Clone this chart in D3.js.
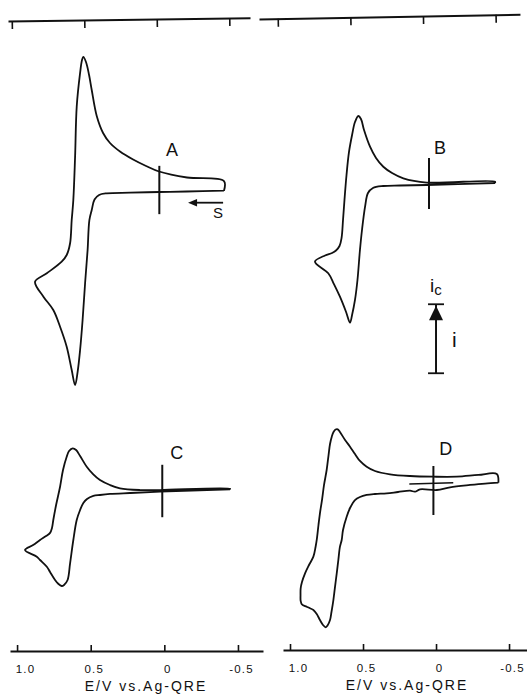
<!DOCTYPE html>
<html lang="en">
<head>
<meta charset="utf-8">
<title>CV A-D</title>
<script src="https://cdn.jsdelivr.net/npm/d3@7"></script>
<style>
body { margin: 0; background: #fff; }
text { font-family: "Liberation Sans", Arial, sans-serif; fill: #111; }
</style>
</head>
<body>
<script>
var w = 527;
var h = 694;

// potential axis ticks (V vs. Ag-QRE)
var eTicks = [1.0, 0.5, 0, -0.5];
var eTickLabels = ["1.0", "0.5", "0", "-0.5"];

// traced voltammograms: [E (V), i (arb. units, cathodic up)], one closed loop each
var cvA = [[-0.405,-0.10],[-0.152,-0.22],[0.034,-0.29],[0.233,-0.39],[0.391,-0.48],[0.443,-0.72],[0.474,-1.38],
  [0.493,-2.90],[0.509,-4.35],[0.521,-8.70],[0.538,-13.48],[0.555,-18.84],[0.572,-23.19],[0.589,-26.38],
  [0.606,-28.26],[0.629,-26.09],[0.663,-22.71],[0.708,-19.81],[0.754,-17.39],[0.821,-15.46],[0.878,-13.29],
  [0.798,-12.07],[0.697,-10.39],[0.663,-9.42],[0.640,-7.72],[0.629,-4.35],[0.618,-1.45],[0.606,4.83],
  [0.595,12.07],[0.572,16.96],[0.559,18.84],[0.550,19.28],[0.532,18.55],[0.511,16.67],[0.493,14.49],
  [0.459,10.72],[0.416,8.26],[0.369,6.81],[0.301,5.58],[0.212,4.42],[0.124,3.48],[0.036,2.68],
  [-0.154,1.81],[-0.405,1.30]];

var cvB = [[-0.404,0.07],[0.064,-0.22],[0.247,-0.29],[0.361,-0.36],[0.432,-0.65],[0.466,-1.38],[0.486,-3.36],
  [0.507,-6.74],[0.521,-9.64],[0.538,-13.99],[0.555,-16.88],[0.575,-19.06],[0.589,-20.17],[0.616,-18.62],
  [0.658,-16.41],[0.699,-14.57],[0.738,-13.01],[0.829,-11.33],[0.760,-10.43],[0.712,-10.07],[0.685,-9.71],
  [0.661,-9.06],[0.647,-7.90],[0.637,-5.29],[0.627,-2.39],[0.613,1.23],[0.596,4.57],[0.575,7.03],
  [0.555,8.91],[0.532,9.78],[0.514,9.35],[0.493,7.75],[0.452,5.33],[0.411,3.70],[0.361,2.43],
  [0.301,1.52],[0.224,0.75],[0.064,0.14],[-0.404,0.26]];

var cvC = [[-0.446,0.25],[0.029,-0.10],[0.233,-0.29],[0.369,-0.43],[0.437,-0.58],[0.482,-0.72],[0.525,-1.16],
  [0.550,-1.74],[0.572,-2.75],[0.595,-4.20],[0.618,-7.10],[0.640,-10.48],[0.657,-12.90],[0.681,-13.62],
  [0.697,-13.77],[0.722,-13.41],[0.742,-12.90],[0.776,-11.74],[0.798,-10.97],[0.844,-10.00],[0.866,-9.52],
  [0.946,-8.55],[0.891,-7.83],[0.844,-7.10],[0.803,-6.52],[0.776,-6.07],[0.763,-5.36],[0.754,-4.20],
  [0.735,-2.03],[0.708,0.62],[0.688,3.04],[0.663,4.97],[0.647,5.80],[0.622,6.19],[0.599,5.94],
  [0.572,5.07],[0.527,3.52],[0.484,2.46],[0.437,1.59],[0.369,0.87],[0.301,0.39],[0.165,0.14],
  [0.029,0.14],[-0.446,0.33]];

var cvD = [[-0.427,1.13],[-0.336,1.01],[-0.233,0.80],[-0.096,0.46],[-0.005,0.07],[0.110,0.17],[0.144,-0.17],
  [0.178,-0.03],[0.260,-0.22],[0.338,-0.41],[0.418,-0.51],[0.475,-0.65],[0.521,-0.94],[0.555,-1.38],
  [0.589,-2.54],[0.612,-3.80],[0.637,-5.72],[0.646,-7.17],[0.658,-8.14],[0.669,-10.07],[0.680,-12.00],
  [0.692,-13.99],[0.703,-15.87],[0.716,-17.61],[0.726,-18.77],[0.743,-19.57],[0.755,-19.83],[0.774,-19.49],
  [0.795,-18.77],[0.817,-17.90],[0.840,-17.32],[0.863,-17.07],[0.886,-16.84],[0.918,-16.52],[0.927,-16.01],
  [0.928,-15.14],[0.927,-14.17],[0.918,-13.26],[0.897,-12.00],[0.870,-10.80],[0.840,-9.59],[0.825,-8.19],
  [0.817,-7.17],[0.805,-5.00],[0.795,-3.30],[0.781,-1.38],[0.767,0.80],[0.749,2.97],[0.736,5.14],
  [0.726,6.74],[0.714,7.80],[0.702,8.48],[0.688,8.84],[0.673,8.87],[0.658,8.48],[0.623,7.32],
  [0.589,6.35],[0.555,5.29],[0.521,4.28],[0.475,3.45],[0.418,2.83],[0.315,2.35],[0.178,2.10],
  [0.018,2.00],[-0.142,2.00],[-0.290,2.25],[-0.416,2.39]];

// short extra trace near the zero marker in D
var cvDExtra = [[0.183,0.94],[-0.118,1.13]];

// zero markers (E position, half height in current units)
var markerE = [0.034, 0.048, 0.014, 0.018];
var markerHalf = [3.5, 3.7, 3.8, 3.55];

// current scale bar (i units)
var scaleBarI = [-27.5, -17.5];

var svg = d3.select("body").append("svg")
  .attr("width", w)
  .attr("height", h);

// x scales for the two columns
var xLeft = d3.scaleLinear().domain([1.048, -0.670]).range([10, 263]);
var xRight = d3.scaleLinear().domain([1.048, -0.623]).range([283, 527]);
var xTopLeft = d3.scaleLinear().domain([1.026, -0.643]).range([8, 250]);
var xTopRight = d3.scaleLinear().domain([1.129, -0.668]).range([259, 520]);

var panels = [
  {name: "A", data: cvA, x: xLeft, y0: 190, lab: [-0.052, 4.93]},
  {name: "B", data: cvB, x: xRight, y0: 183.5, lab: [-0.027, 4.28]},
  {name: "C", data: cvC, x: xLeft, y0: 491, lab: [-0.084, 4.64]},
  {name: "D", data: cvD, x: xRight, y0: 490.5, lab: [-0.066, 5.14]}
];

panels.forEach(function (p, k) {
  var x = p.x;
  var y = d3.scaleLinear().domain([0, 10]).range([p.y0, p.y0 - 69]);
  p.y = y;
  var line = d3.line()
    .x(function (d) { return x(d[0]); })
    .y(function (d) { return y(d[1]); })
    .curve(d3.curveCatmullRom.alpha(0.5));

  svg.append("path")
     .datum(p.data.concat([p.data[0]]))
     .attr("d", line)
     .attr("fill", "none")
     .attr("stroke", "#111")
     .attr("stroke-width", 1.8)
     .attr("stroke-linejoin", "round");

  svg.append("line")
     .attr("x1", x(markerE[k])).attr("x2", x(markerE[k]))
     .attr("y1", y(markerHalf[k])).attr("y2", y(-markerHalf[k]))
     .attr("stroke", "#111")
     .attr("stroke-width", 2);

  svg.append("text")
     .attr("x", x(p.lab[0]))
     .attr("y", y(p.lab[1]))
     .attr("text-anchor", "middle")
     .attr("font-size", "18px")
     .text(p.name);

  if (p.name === "D") {
    svg.append("path")
       .datum(cvDExtra)
       .attr("d", line.curve(d3.curveLinear))
       .attr("fill", "none")
       .attr("stroke", "#111")
       .attr("stroke-width", 1.5);
  }
});

// scan direction arrow in A
var pA = panels[0];
var ay = pA.y(-1.84);
svg.append("line")
   .attr("x1", xLeft(-0.399)).attr("x2", xLeft(-0.20))
   .attr("y1", ay).attr("y2", ay)
   .attr("stroke", "#111").attr("stroke-width", 1.8);
svg.append("path")
   .attr("d", "M" + xLeft(-0.161) + "," + ay + "l9,-3.8l0,7.6z")
   .attr("fill", "#111");
svg.append("text")
   .attr("x", xLeft(-0.365)).attr("y", pA.y(-4.06))
   .attr("text-anchor", "middle")
   .attr("font-size", "15px")
   .text("S");

// current scale bar next to B
var pB = panels[1];
var bx = xRight(0);
var yb0 = pB.y(scaleBarI[0]), yb1 = pB.y(scaleBarI[1]);
svg.append("line").attr("x1", bx).attr("x2", bx).attr("y1", yb0).attr("y2", yb1)
   .attr("stroke", "#111").attr("stroke-width", 2);
[yb0, yb1].forEach(function (yy) {
  svg.append("line").attr("x1", bx - 8).attr("x2", bx + 8).attr("y1", yy).attr("y2", yy)
     .attr("stroke", "#111").attr("stroke-width", 1.8);
});
svg.append("path")
   .attr("d", "M" + bx + "," + (yb1 + 1.5) + "l7,14.5l-14,0z")
   .attr("fill", "#111");
var ic = svg.append("text").attr("x", bx - 6).attr("y", yb1 - 12).attr("font-size", "19px").text("i");
ic.append("tspan").attr("dy", 3).attr("font-size", "15px").text("c");
svg.append("text").attr("x", bx + 16).attr("y", (yb0 + yb1) / 2 + 8).attr("font-size", "21px").text("i");

// bottom axes
var labelShift = [8, 3, 3, 3];
function bottomAxis(x, yPos, titleX) {
  var g = svg.append("g")
     .attr("transform", "translate(0," + yPos + ")")
     .call(d3.axisBottom(x)
        .tickValues(eTicks)
        .tickFormat(function (d, i) { return eTickLabels[i]; })
        .tickSizeInner(-6)
        .tickSizeOuter(0)
        .tickPadding(14));
  g.select(".domain").attr("stroke", "#111").attr("stroke-width", 2);
  g.selectAll(".tick line").attr("stroke", "#111").attr("stroke-width", 1.6);
  g.selectAll(".tick text")
   .attr("font-size", "11.5px")
   .attr("letter-spacing", "1.2px")
   .attr("dx", function (d, i) { return labelShift[i]; })
   .attr("fill", "#111")
   .style("font-family", "\"Liberation Sans\", Arial, sans-serif");
  svg.append("text")
     .attr("x", titleX).attr("y", yPos + 40)
     .attr("text-anchor", "middle")
     .attr("font-size", "14px")
     .attr("letter-spacing", "2px")
     .text("E/V vs.Ag-QRE");
}
bottomAxis(xLeft, 651, 146);
bottomAxis(xRight, 650, 407);

// top axes (no labels, ticks hang down)
function topAxis(x, yPos, rot, cx) {
  var g = svg.append("g")
     .attr("transform", "translate(0," + yPos + ") rotate(" + rot + "," + cx + ",0)")
     .call(d3.axisBottom(x)
        .tickValues(eTicks)
        .tickFormat("")
        .tickSizeInner(8)
        .tickSizeOuter(0));
  g.select(".domain").attr("stroke", "#111").attr("stroke-width", 2);
  g.selectAll(".tick line").attr("stroke", "#111").attr("stroke-width", 1.6);
}
topAxis(xTopLeft, 21, -0.78, 8);
topAxis(xTopRight, 19, -1.03, 259);
</script>
</body>
</html>
